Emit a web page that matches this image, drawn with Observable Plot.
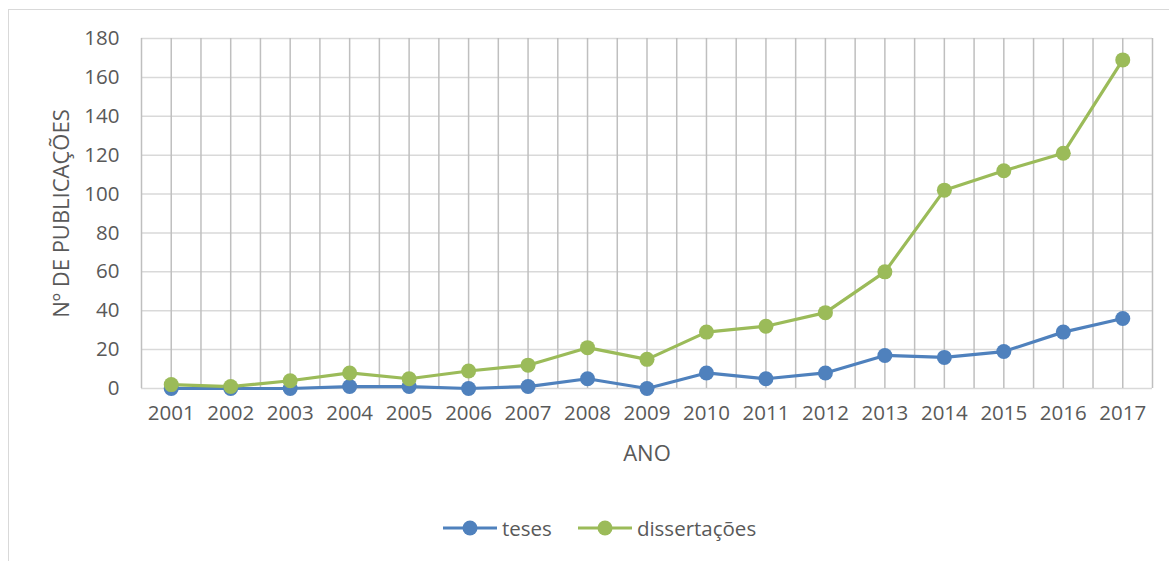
<!DOCTYPE html>
<html>
<head>
<meta charset="utf-8">
<script src="https://cdn.jsdelivr.net/npm/d3@7"></script>
<script src="https://cdn.jsdelivr.net/npm/@observablehq/plot@0.6"></script>
<style>
  html, body { margin: 0; padding: 0; background: #fff; overflow: hidden; }
  body { width: 1169px; height: 561px; position: relative; font-family: "Open Sans", sans-serif; color: #595959; }
  #frame { position: absolute; left: 8px; top: 9px; width: 1200px; height: 600px; border: 1px solid #d9d9d9; box-sizing: border-box; }
  #chart { position: absolute; left: 0; top: 0; }
  #legend { position: absolute; left: 443px; top: 514px; display: flex; align-items: center; font-size: 20.5px; }
  #legend .item { display: flex; align-items: center; margin-right: 26px; }
  #legend svg { margin-right: 5px; }
</style>
</head>
<body>
<div id="frame"></div>
<div id="chart"></div>
<div id="legend"></div>
<script>
// Publicações por ano: teses e dissertações
const anos = [2001, 2002, 2003, 2004, 2005, 2006, 2007, 2008, 2009, 2010, 2011, 2012, 2013, 2014, 2015, 2016, 2017];
const teses = [0, 0, 0, 1, 1, 0, 1, 5, 0, 8, 5, 8, 17, 16, 19, 29, 36];
const dissertacoes = [2, 1, 4, 8, 5, 9, 12, 21, 15, 29, 32, 39, 60, 102, 112, 121, 169];
const yTicks = [0, 20, 40, 60, 80, 100, 120, 140, 160, 180];
const seriesNames = ["teses", "dissertações"];
const seriesColors = ["#4f81bd", "#9bbb59"];

const rows = [
  ...anos.map((ano, i) => ({ano, valor: teses[i], serie: seriesNames[0]})),
  ...anos.map((ano, i) => ({ano, valor: dissertacoes[i], serie: seriesNames[1]}))
];

// vertical grid at every category centre and every category boundary
const gridX = d3.range(anos[0] - 0.5, anos[anos.length - 1] + 0.51, 0.5);

const chart = Plot.plot({
  width: 1169,
  height: 480,
  marginLeft: 141,
  marginRight: 17,
  marginTop: 38,
  marginBottom: 92,
  style: {fontFamily: "'Open Sans', sans-serif", fontSize: "20.5px", color: "#595959", background: "transparent"},
  x: {type: "linear", domain: [anos[0] - 0.5, anos[anos.length - 1] + 0.5]},
  y: {domain: [0, 180]},
  color: {domain: seriesNames, range: seriesColors},
  marks: [
    Plot.ruleY(yTicks, {stroke: "#d9d9d9", strokeWidth: 1.5}),
    Plot.ruleX(gridX, {stroke: "#bfbfbf", strokeWidth: 1.5}),
    Plot.axisX({ticks: anos, tickFormat: d => String(d), tickSize: 0, tickPadding: 17, label: null, fontSize: 20.5}),
    Plot.axisY({ticks: yTicks, tickSize: 0, tickPadding: 22, label: null, fontSize: 20.5}),
    Plot.text(["ANO"], {frameAnchor: "bottom", dy: 72, fontSize: 22, fill: "#595959"}),
    Plot.text(["Nº DE PUBLICAÇÕES"], {frameAnchor: "left", textAnchor: "middle", rotate: -90, dx: -80, fontSize: 22, fill: "#595959"}),
    Plot.line(rows, {x: "ano", y: "valor", z: "serie", stroke: "serie", strokeWidth: 3.2}),
    Plot.dot(rows, {x: "ano", y: "valor", fill: "serie", r: 7.5})
  ]
});
document.getElementById("chart").appendChild(chart);

// legend
const legend = document.getElementById("legend");
seriesNames.forEach((name, i) => {
  const item = document.createElement("div");
  item.className = "item";
  item.innerHTML = `<svg width="54" height="20"><line x1="0" y1="10" x2="54" y2="10" stroke="${seriesColors[i]}" stroke-width="3"/><circle cx="27" cy="10" r="7.5" fill="${seriesColors[i]}"/></svg><span>${name}</span>`;
  legend.appendChild(item);
});
</script>
</body>
</html>
